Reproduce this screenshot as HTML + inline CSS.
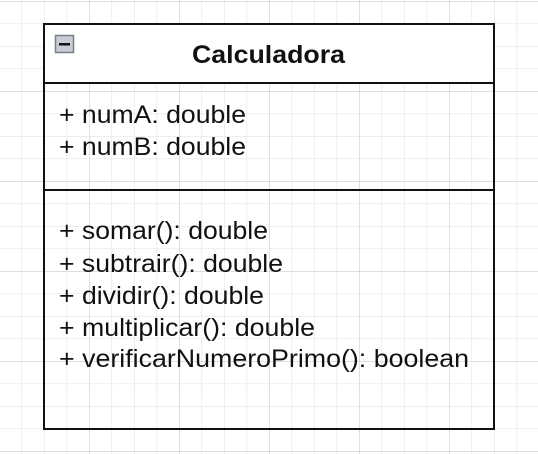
<!DOCTYPE html>
<html><head><meta charset="utf-8"><style>html,body{margin:0;padding:0;background:#fff}svg{display:block}</style></head>
<body>
<svg width="538" height="454" xmlns="http://www.w3.org/2000/svg">
<defs>
<pattern id="mn" x="-1" y="1" width="22.5" height="22.5" patternUnits="userSpaceOnUse">
<path d="M0 0H22.5M0 0V22.5" stroke="#e4e4e4" stroke-width="1.2" fill="none"/>
</pattern>
<pattern id="mj" x="-1" y="1" width="90" height="90" patternUnits="userSpaceOnUse">
<path d="M0 0H90M0 0V90" stroke="#cfcfcf" stroke-width="1.2" fill="none"/>
</pattern>
</defs>
<rect width="538" height="454" fill="url(#mn)"/>
<rect width="538" height="454" fill="url(#mj)"/>
<rect x="44" y="24" width="450" height="59" fill="#fff"/>
<rect x="44" y="24" width="450" height="405" fill="none" stroke="#111" stroke-width="2"/>
<line x1="44" y1="83" x2="494" y2="83" stroke="#111" stroke-width="2"/>
<line x1="44" y1="190" x2="494" y2="190" stroke="#111" stroke-width="2"/>
<rect x="55.5" y="35.5" width="18" height="17" fill="#c8ccd4" stroke="#7a7f88" stroke-width="1.5"/>
<rect x="59" y="43" width="11" height="2.5" fill="#111"/>
<g font-family="Liberation Sans, Arial, sans-serif" fill="#111">
<text x="192" y="63" font-size="25" font-weight="bold" textLength="153" lengthAdjust="spacingAndGlyphs">Calculadora</text>
<g font-size="25">
<text x="59" y="123" textLength="187" lengthAdjust="spacingAndGlyphs">+ numA: double</text>
<text x="59" y="155" textLength="187" lengthAdjust="spacingAndGlyphs">+ numB: double</text>
<text x="59" y="239" textLength="209" lengthAdjust="spacingAndGlyphs">+ somar(): double</text>
<text x="59" y="272" textLength="224" lengthAdjust="spacingAndGlyphs">+ subtrair(): double</text>
<text x="59" y="304" textLength="205" lengthAdjust="spacingAndGlyphs">+ dividir(): double</text>
<text x="59" y="336" textLength="256" lengthAdjust="spacingAndGlyphs">+ multiplicar(): double</text>
<text x="59" y="367" textLength="410" lengthAdjust="spacingAndGlyphs">+ verificarNumeroPrimo(): boolean</text>
</g>
</g>
</svg>
</body></html>
